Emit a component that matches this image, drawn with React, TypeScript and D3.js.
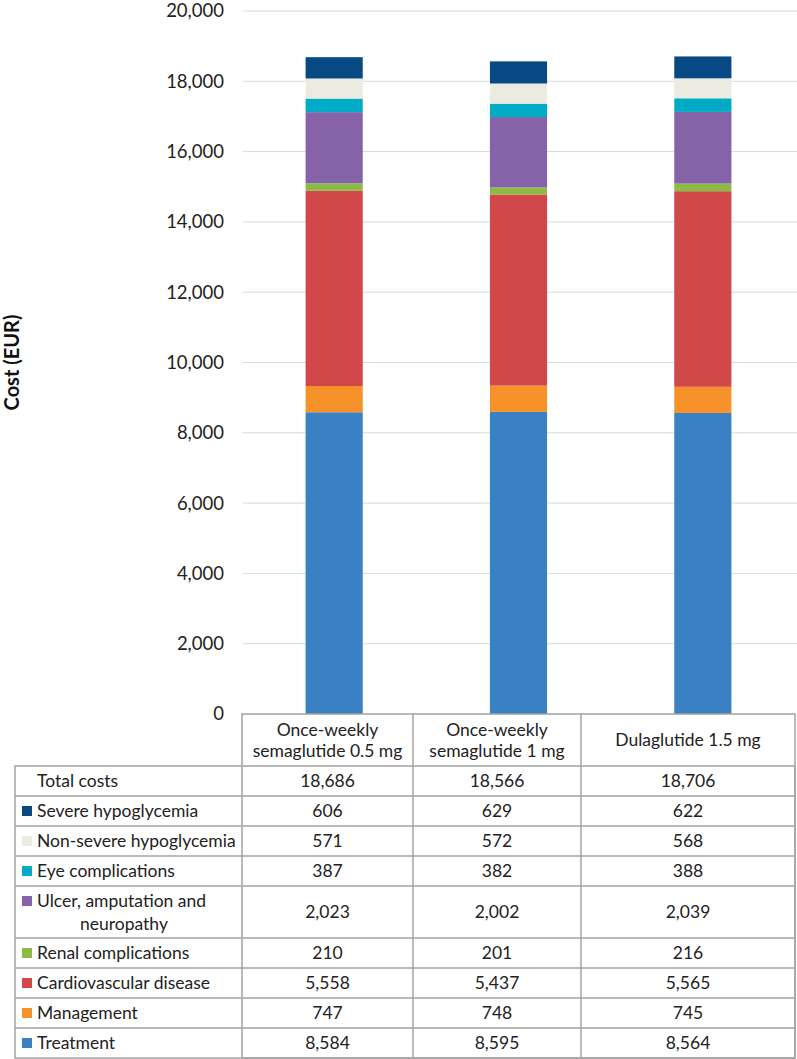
import React from "react";
import * as d3 from "d3";

// arms (bar categories)
const arms = ["Once-weekly semaglutide 0.5 mg", "Once-weekly semaglutide 1 mg", "Dulaglutide 1.5 mg"];
const armHeaderLines = [["Once-weekly", "semaglutide 0.5 mg"], ["Once-weekly", "semaglutide 1 mg"], ["Dulaglutide 1.5 mg"]];

// cost components, bottom of stack first
const components = [
  "Treatment",
  "Management",
  "Cardiovascular disease",
  "Renal complications",
  "Ulcer, amputation and neuropathy",
  "Eye complications",
  "Non-severe hypoglycemia",
  "Severe hypoglycemia",
];
const componentColors = ["#3A81C3", "#F7922A", "#D24749", "#8CBB45", "#8663A8", "#00ABC6", "#ECEBE1", "#064983"];

// values per component, one entry per arm
const treatment = [8584, 8595, 8564];
const management = [747, 748, 745];
const cardiovascular = [5558, 5437, 5565];
const renal = [210, 201, 216];
const ulcer = [2023, 2002, 2039];
const eye = [387, 382, 388];
const nonSevereHypo = [571, 572, 568];
const severeHypo = [606, 629, 622];
const totalCosts = [18686, 18566, 18706];

const yTicks = [0, 2000, 4000, 6000, 8000, 10000, 12000, 14000, 16000, 18000, 20000];

const W = 797;
const H = 1059;
const FONT = "Lato, 'Noto Sans', sans-serif";

export default function App() {
  const series = [treatment, management, cardiovascular, renal, ulcer, eye, nonSevereHypo, severeHypo];
  const rows = arms.map((a, i) => {
    const r: any = { arm: a };
    components.forEach((c, k) => (r[c] = series[k][i]));
    return r;
  });
  const stacked = d3.stack().keys(components)(rows);

  const plotTop = 11;
  const plotBottom = 714;
  const y = d3.scaleLinear().domain([0, 20000]).range([plotBottom, plotTop]);
  const x = d3.scaleBand().domain(arms).range([242, 795]).paddingInner(0.69).paddingOuter(0.345);
  const fmt = d3.format(",");

  // table layout
  const colEdges = [15, 242, 413, 581, 795];
  const headerH = 52;
  const tableRows = [
    { label: ["Total costs"], values: totalCosts, color: null, h: 30 },
    ...components
      .map((c, k) => ({
        label: c === "Ulcer, amputation and neuropathy" ? ["Ulcer, amputation and", "neuropathy"] : [c],
        values: series[k],
        color: componentColors[k],
        h: c === "Ulcer, amputation and neuropathy" ? 52 : 30,
      }))
      .reverse(),
  ];
  let yCursor = plotBottom + headerH;
  const rowPos = tableRows.map((r) => {
    const y0 = yCursor;
    yCursor += r.h;
    return y0;
  });
  const tableBottom = yCursor;
  const border = "#A3A3A3";
  const fs = 17.5;

  return (
    <div style={{ position: "absolute", left: 0, top: 0 }}>
      <svg width={W} height={H} style={{ display: "block", fontFamily: FONT }}>
        <rect width={W} height={H} fill="#fff" />
        {/* gridlines and tick labels */}
        {yTicks.map((t) => (
          <g key={t}>
            {t > 0 && <line x1={243} x2={797} y1={y(t)} y2={y(t)} stroke="#D9D9D9" strokeWidth={1} />}
            <text x={224} y={y(t)} dy="0.35em" textAnchor="end" fontSize={18.5} fill="#222">
              {fmt(t)}
            </text>
          </g>
        ))}
        <text
          transform={`translate(12,${(plotTop + plotBottom) / 2}) rotate(-90)`}
          textAnchor="middle"
          dy="0.35em"
          fontSize={20}
          fontWeight="bold"
          fill="#111"
        >
          Cost (EUR)
        </text>
        {/* stacked bars */}
        {stacked.map((s, k) => (
          <g key={s.key} fill={componentColors[k]}>
            {s.map((d, i) => (
              <rect key={i} x={x(arms[i])} width={x.bandwidth()} y={y(d[1])} height={y(d[0]) - y(d[1])} />
            ))}
          </g>
        ))}
        {/* data table */}
        <g stroke={border} strokeWidth={1.5} fill="none">
          <rect x={colEdges[1]} y={plotBottom} width={colEdges[4] - colEdges[1]} height={tableBottom - plotBottom} />
          <rect x={colEdges[0]} y={plotBottom + headerH} width={colEdges[4] - colEdges[0]} height={tableBottom - plotBottom - headerH} />
          {[2, 3].map((c) => (
            <line key={c} x1={colEdges[c]} x2={colEdges[c]} y1={plotBottom} y2={tableBottom} />
          ))}
          {rowPos.slice(1).map((ry, i) => (
            <line key={i} x1={colEdges[0]} x2={colEdges[4]} y1={ry} y2={ry} />
          ))}
        </g>
        {armHeaderLines.map((lines, i) => {
          const cx = (colEdges[i + 1] + colEdges[i + 2]) / 2;
          const cy = plotBottom + headerH / 2;
          return (
            <text key={i} textAnchor="middle" fontSize={fs} fill="#222">
              {lines.map((l, j) => (
                <tspan key={j} x={cx} y={cy + (j - (lines.length - 1) / 2) * 21} dy="0.35em">
                  {l}
                </tspan>
              ))}
            </text>
          );
        })}
        {tableRows.map((r, ri) => {
          const y0 = rowPos[ri];
          const cy = y0 + r.h / 2;
          return (
            <g key={ri}>
              {r.color && <rect x={22} y={y0 + 10} width={10} height={10} fill={r.color} />}
              <text fontSize={fs} fill="#222">
                {r.label.map((l, j) => (
                  <tspan
                    key={j}
                    x={j === 0 ? 37 : 80}
                    y={r.label.length > 1 ? y0 + 15 + j * 23 : cy}
                    dy="0.35em"
                  >
                    {l}
                  </tspan>
                ))}
              </text>
              {r.values.map((v, i) => (
                <text
                  key={i}
                  x={(colEdges[i + 1] + colEdges[i + 2]) / 2}
                  y={cy}
                  dy="0.35em"
                  textAnchor="middle"
                  fontSize={fs}
                  fill="#222"
                >
                  {fmt(v)}
                </text>
              ))}
            </g>
          );
        })}
      </svg>
    </div>
  );
}
